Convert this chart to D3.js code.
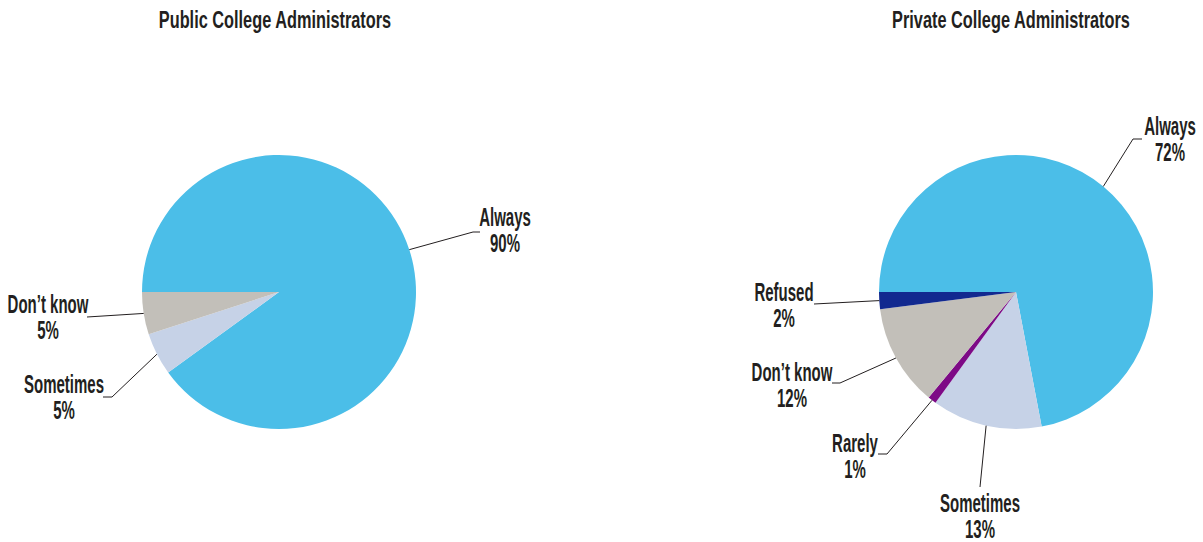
<!DOCTYPE html>
<html>
<head>
<meta charset="utf-8">
<script src="https://cdn.jsdelivr.net/npm/d3@7"></script>
<style>
  html, body { margin: 0; padding: 0; background: #ffffff; }
  svg text { font-family: "Liberation Sans Narrow", "Liberation Sans", "DejaVu Sans Condensed", sans-serif; font-weight: bold; fill: #231f20; }
</style>
</head>
<body>
<svg id="chart" width="1203" height="542"></svg>
<script>
// Survey shares, in percent
const publicTitle = "Public College Administrators";
const publicCategories = ["Always", "Sometimes", "Don’t know"];
const publicValues = [90, 5, 5];

const privateTitle = "Private College Administrators";
const privateCategories = ["Always", "Sometimes", "Rarely", "Don’t know", "Refused"];
const privateValues = [72, 13, 1, 12, 2];

const colorCategories = ["Always", "Sometimes", "Rarely", "Don’t know", "Refused"];
const colorValues = ["#4bbee8", "#c6d2e7", "#7d0a86", "#c2bfb9", "#12298f"];

// Leader-line elbows and label anchors, relative to the pie centre
const publicLayout = {
  "Always":     { elbow: [194, -60], end: [201, -60], label: [226, -66] },
  "Sometimes":  { elbow: [-167, 105], end: [-176, 105], label: [-215, 101] },
  "Don’t know": { elbow: [-192, 25], end: [-192, 25], label: [-231, 21] }
};
const privateLayout = {
  "Always":     { elbow: [117, -153], end: [126, -153], label: [154, -157] },
  "Sometimes":  { elbow: [-36, 195], end: [-36, 195], label: [-36, 220] },
  "Rarely":     { elbow: [-129, 162], end: [-138, 162], label: [-161, 160] },
  "Don’t know": { elbow: [-176, 91], end: [-184, 91], label: [-224, 89] },
  "Refused":    { elbow: [-202, 12], end: [-202, 12], label: [-232, 9] }
};

const color = d3.scaleOrdinal().domain(colorCategories).range(colorValues);

const svg = d3.select("#chart");
const radius = 137;
const labelSize = 25;
const labelSqueeze = 0.6;   // condensed letterforms
const titleSize = 24;
const titleSqueeze = 0.68;
const lineGap = 26;

const pie = d3.pie()
  .sort(null)
  .value(d => d.value)
  .startAngle(-Math.PI / 2)
  .endAngle(1.5 * Math.PI);

const arc = d3.arc().innerRadius(0).outerRadius(radius);

function squeezedText(g, x, y, str, size, squeeze) {
  g.append("text")
    .attr("transform", `translate(${x},${y}) scale(${squeeze},1)`)
    .attr("text-anchor", "middle")
    .attr("font-size", size)
    .text(str);
}

function drawPie(cx, cy, titleX, title, categories, values, layout) {
  const data = categories.map((c, i) => ({ category: c, value: values[i] }));
  const g = svg.append("g").attr("transform", `translate(${cx},${cy})`);

  squeezedText(svg, titleX, 28, title, titleSize, titleSqueeze);

  const arcs = pie(data);
  g.selectAll("path.slice")
    .data(arcs)
    .join("path")
    .attr("class", "slice")
    .attr("d", arc)
    .attr("fill", d => color(d.data.category));

  arcs.forEach(a => {
    const L = layout[a.data.category];
    const mid = (a.startAngle + a.endAngle) / 2;
    const p0 = [radius * Math.sin(mid), -radius * Math.cos(mid)];
    g.append("path")
      .attr("d", d3.line()([p0, L.elbow, L.end]))
      .attr("fill", "none")
      .attr("stroke", "#231f20")
      .attr("stroke-width", 1);
    squeezedText(g, L.label[0], L.label[1], a.data.category, labelSize, labelSqueeze);
    squeezedText(g, L.label[0], L.label[1] + lineGap, a.data.value + "%", labelSize, labelSqueeze);
  });
}

drawPie(279, 292, 275, publicTitle, publicCategories, publicValues, publicLayout);
drawPie(1016, 292, 1011, privateTitle, privateCategories, privateValues, privateLayout);
</script>
</body>
</html>
